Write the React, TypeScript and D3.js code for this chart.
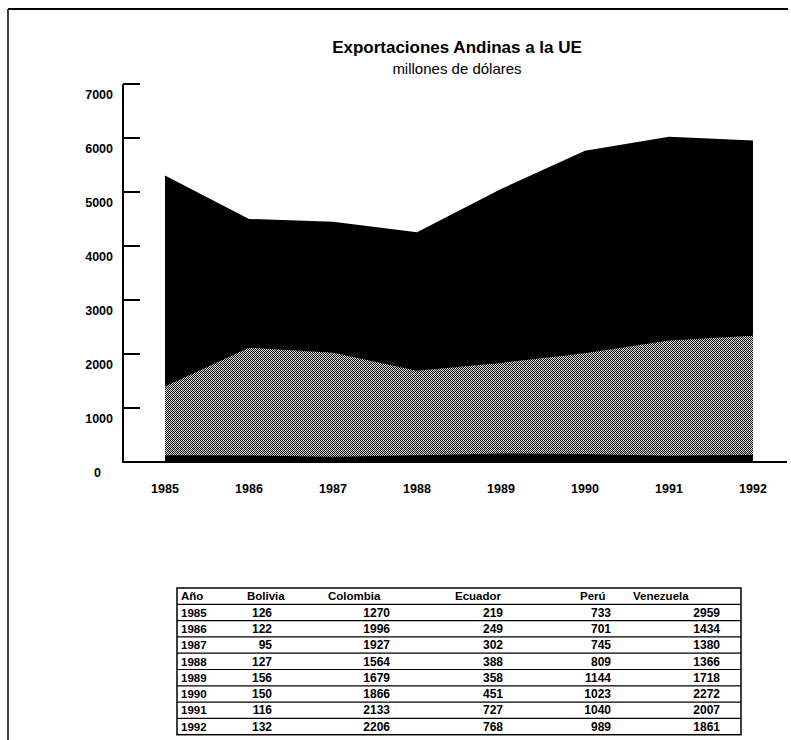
import React from "react";
import * as d3 from "d3";

const years = [1985, 1986, 1987, 1988, 1989, 1990, 1991, 1992];
const bolivia = [126, 122, 95, 127, 156, 150, 116, 132];
const colombia = [1270, 1996, 1927, 1564, 1679, 1866, 2133, 2206];
const ecuador = [219, 249, 302, 388, 358, 451, 727, 768];
const peru = [733, 701, 745, 809, 1144, 1023, 1040, 989];
const venezuela = [2959, 1434, 1380, 1366, 1718, 2272, 2007, 1861];
const seriesKeys = ["Bolivia", "Colombia", "Ecuador", "Perú", "Venezuela"];
const yTicks = [0, 1000, 2000, 3000, 4000, 5000, 6000, 7000];
const tableHeader = ["Año", "Bolivia", "Colombia", "Ecuador", "Perú", "Venezuela"];

const FONT = "'Liberation Sans', Arial, Helvetica, sans-serif";

export default function App() {
  const W = 791, H = 740;
  const x = d3.scaleLinear().domain([1985, 1992]).range([165, 753]);
  const y = d3.scaleLinear().domain([0, 7000]).range([462, 84]);

  const rows = years.map((yr, i) => ({
    year: yr,
    Bolivia: bolivia[i],
    Colombia: colombia[i],
    Ecuador: ecuador[i],
    "Perú": peru[i],
    Venezuela: venezuela[i],
  }));
  const stack = d3.stack<any>().keys(seriesKeys);
  const layers = stack(rows);
  const totalArea = d3
    .area<any>()
    .x((d) => x(d.data.year))
    .y0(() => y(0))
    .y1((d) => y(d[1]))
    .curve(d3.curveLinear);
  const layerArea = d3
    .area<any>()
    .x((d) => x(d.data.year))
    .y0((d) => y(d[0]))
    .y1((d) => y(d[1]))
    .curve(d3.curveLinear);

  // table layout
  const tLeft = 177, tRight = 741, tTop = 588, rowH = 16.3;
  const colX = [181, 247, 328, 455, 580, 633];
  const valRight = [null, 272, 390, 503, 611, 720];
  const tableVals = [bolivia, colombia, ecuador, peru, venezuela];

  return (
    <svg width={W} height={H} style={{ display: "block", position: "absolute", left: 0, top: 0 }} fontFamily={FONT}>
      <defs>
        <pattern id="dither" width="4" height="4" patternUnits="userSpaceOnUse">
          <rect width="4" height="4" fill="#d0d0d0" />
          <rect x="0" y="0" width="1" height="1" fill="#000" />
          <rect x="2" y="0" width="1" height="1" fill="#000" />
          <rect x="1" y="1" width="1" height="1" fill="#000" />
          <rect x="3" y="1" width="1" height="1" fill="#222" />
          <rect x="0" y="2" width="1" height="1" fill="#000" />
          <rect x="2" y="2" width="1" height="1" fill="#333" />
          <rect x="1" y="3" width="1" height="1" fill="#000" />
          <rect x="3" y="3" width="1" height="1" fill="#000" />
          <rect x="1" y="2" width="1" height="1" fill="#fff" />
          <rect x="3" y="0" width="1" height="1" fill="#fff" />
        </pattern>
      </defs>
      <rect width={W} height={H} fill="#fff" />
      {/* frame */}
      <line x1={8} y1={9} x2={788} y2={9} stroke="#000" strokeWidth={2} />
      <line x1={8} y1={9} x2={8} y2={740} stroke="#000" strokeWidth={1.5} />

      {/* title */}
      <text x={457} y={53} textAnchor="middle" fontSize={17} fontWeight="bold">
        Exportaciones Andinas a la UE
      </text>
      <text x={457} y={74} textAnchor="middle" fontSize={15}>
        millones de dólares
      </text>

      {/* areas: total black, Colombia textured on top */}
      <path d={totalArea(layers[layers.length - 1]) || ""} fill="#000" />
      <path d={layerArea(layers[1]) || ""} fill="url(#dither)" />

      {/* y axis */}
      <line x1={123} y1={y(7000)} x2={123} y2={y(0)} stroke="#000" strokeWidth={2} />
      {yTicks.map((t) => (
        <g key={t}>
          {t > 0 && <line x1={123} y1={y(t)} x2={140} y2={y(t)} stroke="#000" strokeWidth={2} />}
          <text x={t === 0 ? 101 : 113} y={y(t) + 15} textAnchor="end" fontSize={12.5} fontWeight="bold">
            {t}
          </text>
        </g>
      ))}
      {/* x axis */}
      <line x1={122} y1={y(0)} x2={787} y2={y(0)} stroke="#000" strokeWidth={2} />
      {years.map((yr) => (
        <text key={yr} x={x(yr)} y={493} textAnchor="middle" fontSize={12.5} fontWeight="bold">
          {yr}
        </text>
      ))}

      {/* table */}
      <rect x={tLeft} y={tTop} width={tRight - tLeft} height={rowH * 9} fill="none" stroke="#000" strokeWidth={1.5} />
      {d3.range(1, 9).map((r) => (
        <line key={r} x1={tLeft} x2={tRight} y1={tTop + r * rowH} y2={tTop + r * rowH} stroke="#000" strokeWidth={1.2} />
      ))}
      {tableHeader.map((h, c) => (
        <text key={h} x={colX[c]} y={tTop + rowH - 4} fontSize={11.5} fontWeight="bold">
          {h}
        </text>
      ))}
      {years.map((yr, r) => (
        <g key={yr}>
          <text x={colX[0]} y={tTop + (r + 2) * rowH - 4} fontSize={11.5} fontWeight="bold">
            {yr}
          </text>
          {tableVals.map((vals, c) => (
            <text key={c} x={valRight[c + 1] as number} y={tTop + (r + 2) * rowH - 4} fontSize={12} fontWeight="bold" textAnchor="end">
              {vals[r]}
            </text>
          ))}
        </g>
      ))}
    </svg>
  );
}
